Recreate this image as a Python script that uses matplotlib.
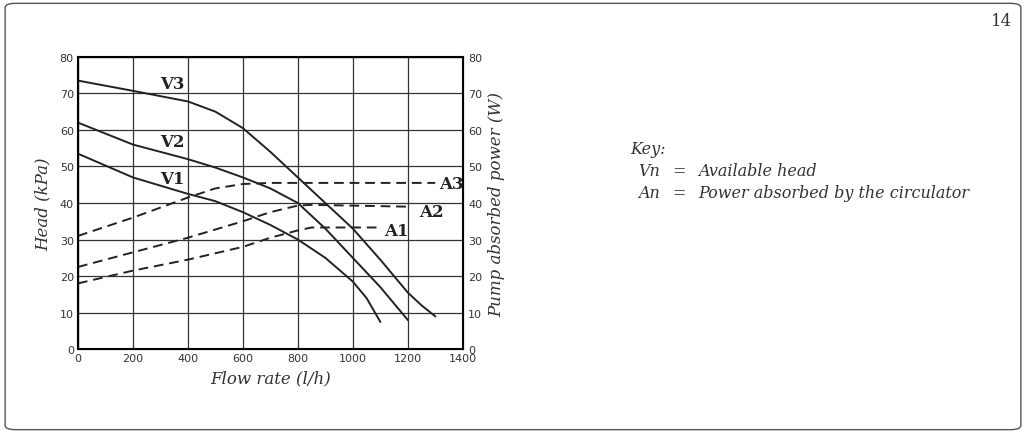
import matplotlib
matplotlib.use("Agg")
import matplotlib.pyplot as plt
import numpy as np
from matplotlib.patches import FancyBboxPatch

v3_x = [0, 200, 400, 500, 600, 700, 800, 900, 1000, 1100, 1200, 1250, 1300]
v3_y = [73.5, 70.7, 67.8, 65, 60.5, 54, 47, 40, 33, 24.5, 15.5, 12, 9]
v2_x = [0, 200, 400, 500, 600, 700, 800, 900, 1000, 1100, 1200]
v2_y = [62, 56, 52, 49.7, 47, 44, 40, 33, 25, 17, 8]
v1_x = [0, 200, 400, 500, 600, 700, 800, 900, 1000, 1050, 1100]
v1_y = [53.5, 47, 42.5, 40.5, 37.5, 34, 30, 25, 18.5, 14, 7.5]
a3_x = [0, 200, 400, 500, 600, 700, 1300]
a3_y = [31, 36, 41.5, 44, 45.2, 45.5, 45.5]
a2_x = [0, 200, 400, 600, 700, 800, 850, 1200]
a2_y = [22.5, 26.5, 30.5, 35, 37.5, 39.3, 39.5, 39]
a1_x = [0, 200, 400, 600, 700, 800, 850, 1100]
a1_y = [18, 21.5, 24.5, 28, 30.5, 32.5, 33.3, 33.3]

serif = "DejaVu Serif"
fig = plt.figure(figsize=(10.26, 4.35), dpi=100)
fig.patches.append(FancyBboxPatch((0.005, 0.01), 0.99, 0.98, boxstyle="round,pad=0,rounding_size=0.01",
                                  transform=fig.transFigure, fill=False, ec="#555555", lw=1))
ax = fig.add_axes([0.076, 0.195, 0.375, 0.672])
ax.set_xlim(0, 1400); ax.set_ylim(0, 80)
ax.set_xticks(range(0, 1401, 200)); ax.set_yticks(range(0, 81, 10))
ax.grid(True, color="#333333", lw=0.9)
for s in ax.spines.values():
    s.set_linewidth(1.5)
ax.tick_params(labelsize=8, length=0, pad=3, colors="#333333")
for x, y in [(v3_x, v3_y), (v2_x, v2_y), (v1_x, v1_y)]:
    ax.plot(x, y, color="#222222", lw=1.4)
for x, y in [(a3_x, a3_y), (a2_x, a2_y), (a1_x, a1_y)]:
    ax.plot(x, y, color="#222222", lw=1.4, ls=(0, (5, 3)))
lab = dict(fontfamily=serif, fontweight="bold", fontsize=12, color="#222222")
ax.text(300, 71.5, "V3", **lab)
ax.text(300, 55.5, "V2", **lab)
ax.text(300, 45.5, "V1", **lab)
ax.text(1315, 44, "A3", **lab)
ax.text(1240, 36.5, "A2", **lab)
ax.text(1115, 31.2, "A1", **lab)
ax.set_xlabel("Flow rate (l/h)", fontfamily=serif, style="italic", fontsize=12, color="#333333", labelpad=4)
ax.set_ylabel("Head (kPa)", fontfamily=serif, style="italic", fontsize=12, color="#333333", labelpad=6)
ax2 = ax.twinx()
ax2.set_ylim(0, 80); ax2.set_yticks(range(0, 81, 10))
ax2.tick_params(labelsize=8, length=0, pad=4, colors="#333333")
ax2.set_ylabel("Pump absorbed power (W)", fontfamily=serif, style="italic", fontsize=12, color="#333333", labelpad=4)
kt = dict(fontfamily=serif, style="italic", fontsize=11.5, color="#333333", transform=fig.transFigure)
fig.text(0.614, 0.645, "Key:", **kt)
fig.text(0.622, 0.595, "Vn", **kt)
fig.text(0.655, 0.595, "=", **kt)
fig.text(0.681, 0.595, "Available head", **kt)
fig.text(0.622, 0.545, "An", **kt)
fig.text(0.655, 0.545, "=", **kt)
fig.text(0.681, 0.545, "Power absorbed by the circulator", **kt)
fig.text(0.987, 0.94, "14", fontfamily=serif, fontsize=12, color="#333333", ha="right")
fig.savefig("out.png", dpi=100)
